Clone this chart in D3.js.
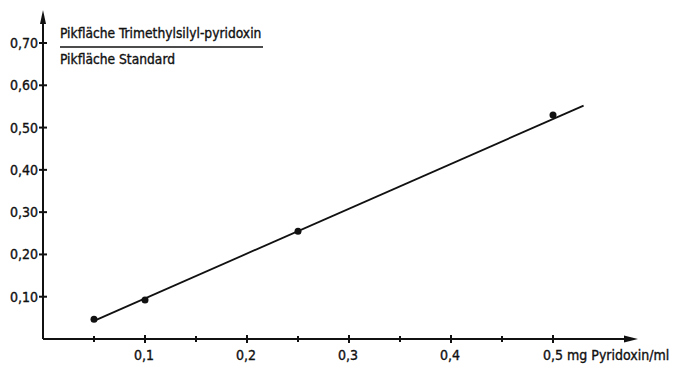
<!DOCTYPE html>
<html>
<head>
<meta charset="utf-8">
<script src="https://cdn.jsdelivr.net/npm/d3@7"></script>
<style>
  body { margin: 0; background: #fff; }
  text { font-family: "DejaVu Sans Condensed", "DejaVu Sans", sans-serif; font-stretch: condensed; fill: #111; stroke: #111; stroke-width: 0.35; }
</style>
</head>
<body>
<svg></svg>
<script>
/* measured points */
var concX = [0.05, 0.1, 0.25, 0.5];
var ratioY = [0.047, 0.092, 0.255, 0.53];

/* calibration line ends */
var fitX = [0.05, 0.53];
var fitY = [0.043, 0.552];

var xMajor = [0.1, 0.2, 0.3, 0.4, 0.5];
var xMajorLabels = ["0,1", "0,2", "0,3", "0,4", "0,5"];
var xMinor = [0.05, 0.15, 0.25, 0.35, 0.45];
var yTicks = [0.1, 0.2, 0.3, 0.4, 0.5, 0.6, 0.7];
var yLabels = ["0,10", "0,20", "0,30", "0,40", "0,50", "0,60", "0,70"];

var svgWidth = 676;
var svgHeight = 369;
var scale = {};

var svg = d3.select("svg")
    .attr('width', svgWidth)
    .attr('height', svgHeight);

scale.x = d3.scaleLinear().domain([0, 0.1]).range([43, 145]);
scale.y = d3.scaleLinear().domain([0, 0.7]).range([339, 43]);

var x0 = scale.x(0), y0 = scale.y(0);

/* axes */
var ax = svg.append('g').attr('stroke', '#111').attr('stroke-width', 2).attr('fill', 'none');
ax.append('line').attr('x1', x0).attr('y1', y0).attr('x2', 630).attr('y2', y0);
ax.append('line').attr('x1', x0).attr('y1', y0).attr('x2', x0).attr('y2', 18);

// arrow heads
svg.append('path')
    .attr('d', 'M638,' + y0 + ' L624,' + (y0 - 3.5) + ' L624,' + (y0 + 3.5) + 'Z')
    .attr('fill', '#111');
svg.append('path')
    .attr('d', 'M' + x0 + ',10 L' + (x0 - 3) + ',24 L' + (x0 + 3) + ',24Z')
    .attr('fill', '#111');

// x ticks
ax.selectAll('.xmaj').data(xMajor).enter().append('line')
    .attr('x1', scale.x).attr('x2', scale.x)
    .attr('y1', y0 - 4).attr('y2', y0 + 4);
ax.selectAll('.xmin').data(xMinor).enter().append('line')
    .attr('x1', scale.x).attr('x2', scale.x)
    .attr('y1', y0 - 3).attr('y2', y0 + 3);

svg.selectAll('.xlab').data(xMajor).enter().append('text')
    .attr('x', function(d){ return scale.x(d) - 1; })
    .attr('y', 360)
    .attr('text-anchor', function(d, i){ return i === 4 ? 'start' : 'middle'; })
    .attr('dx', function(d, i){ return i === 4 ? -9 : 0; })
    .attr('font-size', 14)
    .text(function(d, i){ return i === 4 ? xMajorLabels[i] + ' mg Pyridoxin/ml' : xMajorLabels[i]; });

// y ticks
ax.selectAll('.ytick').data(yTicks).enter().append('line')
    .attr('x1', x0 - 4).attr('x2', x0 + 4)
    .attr('y1', scale.y).attr('y2', scale.y);

svg.selectAll('.ylab').data(yTicks).enter().append('text')
    .attr('x', 38)
    .attr('y', function(d){ return scale.y(d) + 5; })
    .attr('text-anchor', 'end')
    .attr('font-size', 14)
    .text(function(d, i){ return yLabels[i]; });

/* axis title as fraction */
svg.append('text').attr('x', 60).attr('y', 38).attr('font-size', 13.7)
    .text('Pikfläche Trimethylsilyl-pyridoxin');
svg.append('line').attr('x1', 60).attr('x2', 263).attr('y1', 47).attr('y2', 47)
    .attr('stroke', '#111').attr('stroke-width', 1.5);
svg.append('text').attr('x', 60).attr('y', 64).attr('font-size', 13.7)
    .text('Pikfläche Standard');

/* fit line */
var line = d3.line()
    .x(function(d){ return scale.x(d[0]); })
    .y(function(d){ return scale.y(d[1]); });
svg.append('path')
    .datum(d3.zip(fitX, fitY))
    .attr('d', line)
    .attr('stroke', '#111').attr('stroke-width', 1.8).attr('fill', 'none');

/* points */
svg.selectAll('circle').data(d3.zip(concX, ratioY)).enter().append('circle')
    .attr('cx', function(d){ return scale.x(d[0]); })
    .attr('cy', function(d){ return scale.y(d[1]); })
    .attr('r', 3.5)
    .attr('fill', '#111');
</script>
</body>
</html>
